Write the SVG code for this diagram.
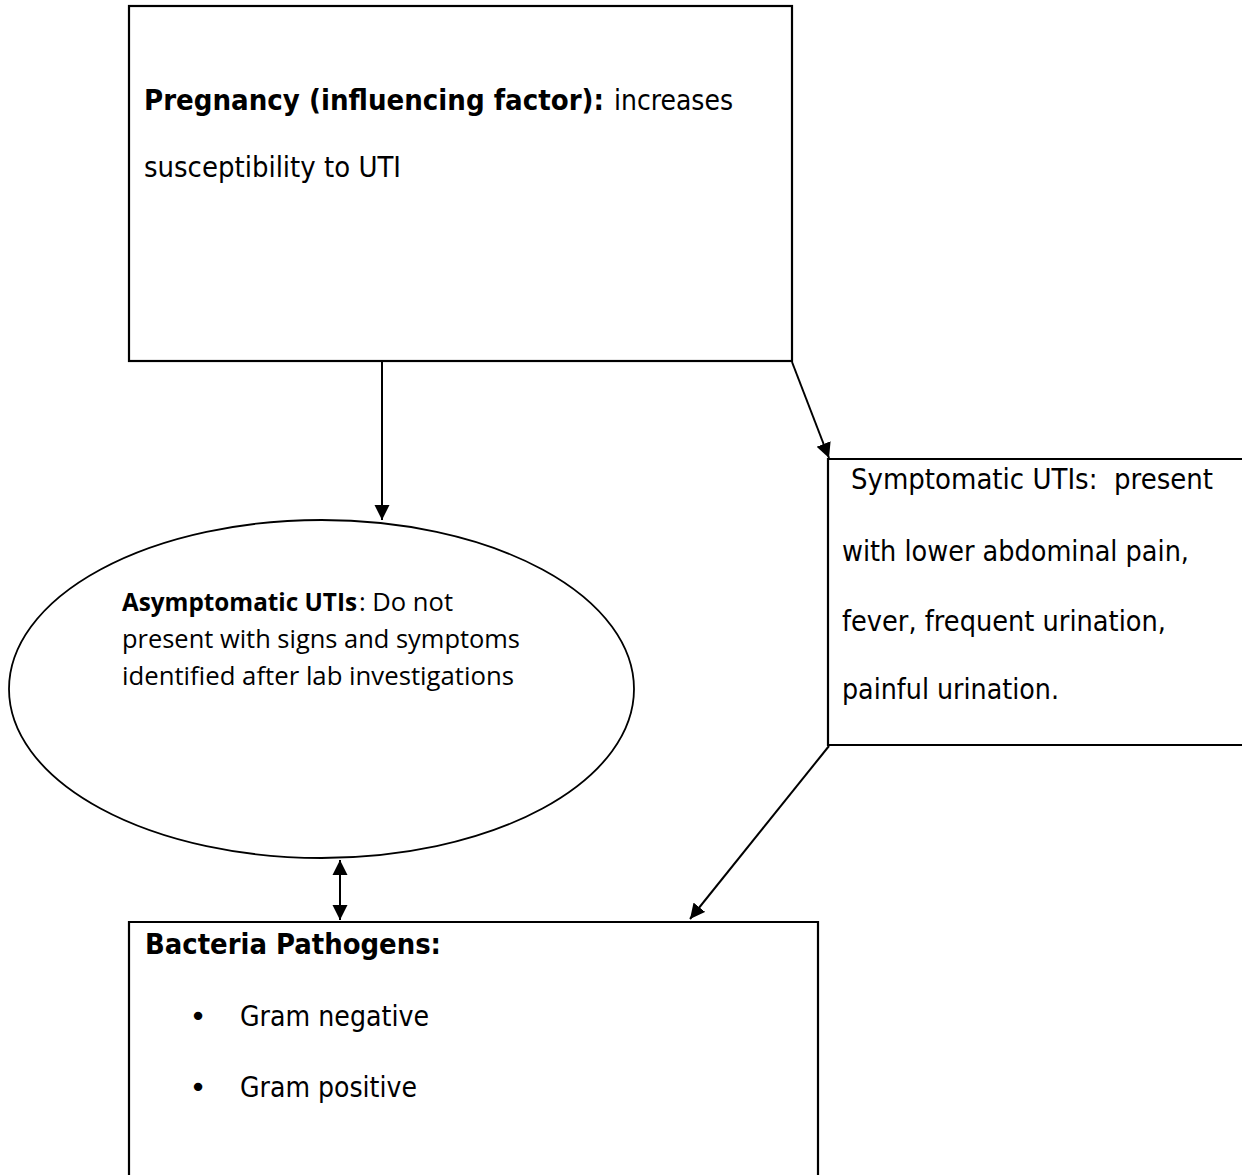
<svg xmlns="http://www.w3.org/2000/svg" width="1242" height="1175" viewBox="0 0 1242 1175">
<style>
.box{fill:#fff;stroke:#000;stroke-width:2.2}
.t{font-family:"DejaVu Sans","Liberation Sans",sans-serif;font-size:29px;fill:#000}
.b{font-weight:bold}
.c{font-family:"Open Sans","Noto Sans","Liberation Sans",sans-serif;font-size:25px;fill:#000}
.ln{stroke:#000;stroke-width:2;fill:none}
</style>
<defs>
<marker id="ah" markerUnits="userSpaceOnUse" markerWidth="16" markerHeight="16" viewBox="0 0 16 16" refX="15" refY="8" orient="auto-start-reverse">
<path d="M0,0.5 L15,8 L0,15.5 Z" fill="#000"/>
</marker>
</defs>
<g id="node-pregnancy">
<rect class="box" x="129" y="6" width="663" height="355"/>
<text class="t b" x="144" y="110" textLength="460" lengthAdjust="spacingAndGlyphs">Pregnancy (influencing factor):</text>
<text class="t" x="614" y="110" textLength="119" lengthAdjust="spacingAndGlyphs">increases</text>
<text class="t" x="144" y="177" textLength="257" lengthAdjust="spacingAndGlyphs">susceptibility to UTI</text>
</g>
<g id="node-symptomatic">
<path class="box" d="M1245,459 L828,459 L828,745 L1245,745"/>
<text class="t" x="851" y="489" textLength="362" lengthAdjust="spacingAndGlyphs" xml:space="preserve">Symptomatic UTIs:  present</text>
<text class="t" x="842" y="561" textLength="347" lengthAdjust="spacingAndGlyphs">with lower abdominal pain,</text>
<text class="t" x="842" y="631" textLength="324" lengthAdjust="spacingAndGlyphs">fever, frequent urination,</text>
<text class="t" x="842" y="699" textLength="217" lengthAdjust="spacingAndGlyphs">painful urination.</text>
</g>
<g id="node-asymptomatic">
<ellipse cx="321.5" cy="689" rx="312.5" ry="169" fill="#fff" stroke="#000" stroke-width="1.8"/>
<text class="c b" x="122" y="611" textLength="235" lengthAdjust="spacingAndGlyphs">Asymptomatic UTIs</text>
<text class="c" x="359" y="611" textLength="94" lengthAdjust="spacingAndGlyphs">: Do not</text>
<text class="c" x="122" y="648" textLength="398" lengthAdjust="spacingAndGlyphs">present with signs and symptoms</text>
<text class="c" x="122" y="685" textLength="392" lengthAdjust="spacingAndGlyphs">identified after lab investigations</text>
</g>
<g id="node-bacteria">
<path class="box" d="M129,1180 L129,922 L818,922 L818,1180"/>
<text class="t b" x="145" y="954" textLength="296" lengthAdjust="spacingAndGlyphs">Bacteria Pathogens:</text>
<text class="t" x="198" y="1026" text-anchor="middle">•</text>
<text class="t" x="240" y="1026" textLength="189" lengthAdjust="spacingAndGlyphs">Gram negative</text>
<text class="t" x="198" y="1097" text-anchor="middle">•</text>
<text class="t" x="240" y="1097" textLength="177" lengthAdjust="spacingAndGlyphs">Gram positive</text>
</g>
<g id="connectors">
<line class="ln" x1="382" y1="362" x2="382" y2="520" marker-end="url(#ah)"/>
<line class="ln" x1="792" y1="362" x2="829" y2="458" marker-end="url(#ah)"/>
<line class="ln" x1="340" y1="860" x2="340" y2="920" marker-start="url(#ah)" marker-end="url(#ah)"/>
<line class="ln" x1="829" y1="746" x2="690" y2="919" marker-end="url(#ah)"/>
</g>
</svg>
